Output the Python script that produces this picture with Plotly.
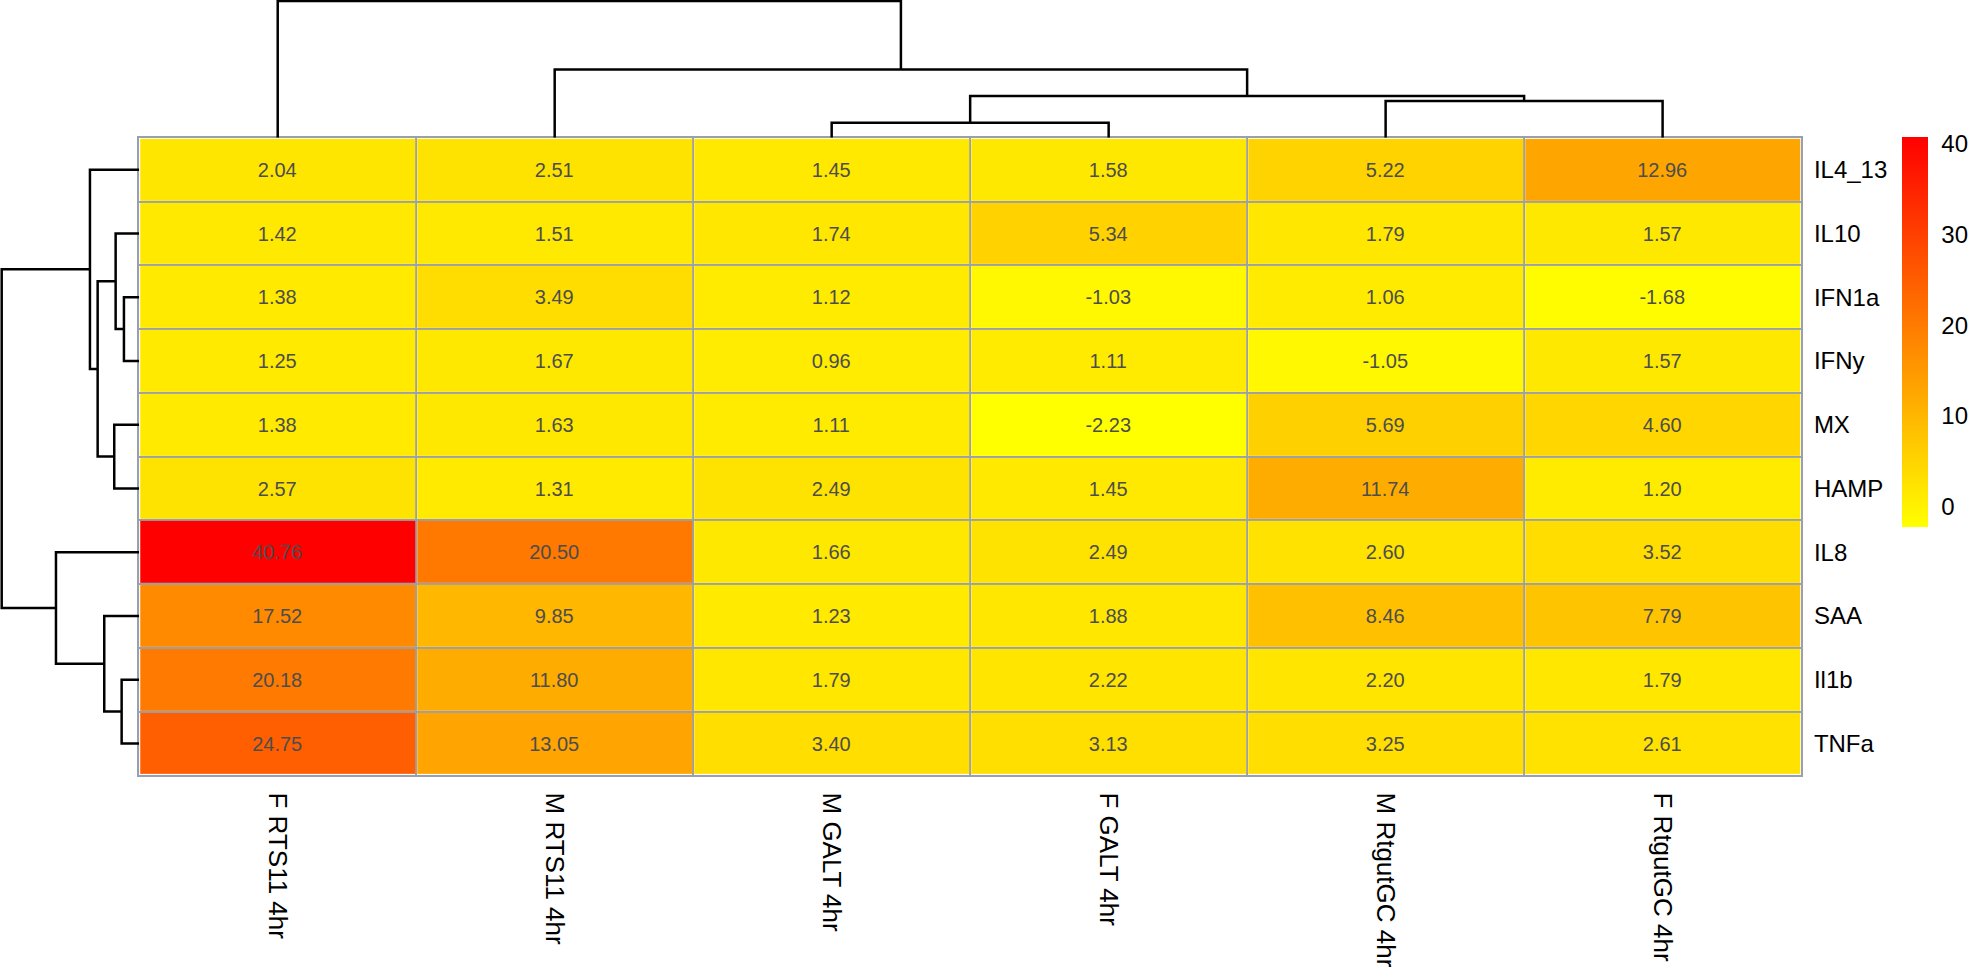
import plotly.graph_objects as go

# ---------------- data ----------------
col_labels = ["F RTS11 4hr", "M RTS11 4hr", "M GALT 4hr", "F GALT 4hr",
              "M RtgutGC 4hr", "F RtgutGC 4hr"]
row_labels = ["IL4_13", "IL10", "IFN1a", "IFNy", "MX", "HAMP",
              "IL8", "SAA", "Il1b", "TNFa"]

il4_13 = [2.04, 2.51, 1.45, 1.58, 5.22, 12.96]
il10   = [1.42, 1.51, 1.74, 5.34, 1.79, 1.57]
ifn1a  = [1.38, 3.49, 1.12, -1.03, 1.06, -1.68]
ifny   = [1.25, 1.67, 0.96, 1.11, -1.05, 1.57]
mx     = [1.38, 1.63, 1.11, -2.23, 5.69, 4.60]
hamp   = [2.57, 1.31, 2.49, 1.45, 11.74, 1.20]
il8    = [40.76, 20.50, 1.66, 2.49, 2.60, 3.52]
saa    = [17.52, 9.85, 1.23, 1.88, 8.46, 7.79]
il1b   = [20.18, 11.80, 1.79, 2.22, 2.20, 1.79]
tnfa   = [24.75, 13.05, 3.40, 3.13, 3.25, 2.61]
values = [il4_13, il10, ifn1a, ifny, mx, hamp, il8, saa, il1b, tnfa]

# dendrogram merges: (left id, right id, merge height) ; ids < n are leaves
col_merges = [(2, 3, 15.3), (4, 5, 37.5), (6, 7, 42.5), (1, 8, 69.5), (0, 9, 139.0)]
row_merges = [(2, 3, 15.3), (8, 9, 17.6), (1, 10, 23.6), (4, 5, 25.0), (7, 11, 35.0),
              (12, 13, 41.6), (0, 15, 49.3), (6, 14, 83.3), (16, 17, 137.6)]

legend_ticks = [0, 10, 20, 30, 40]

# ---------------- helpers ----------------
def dendro_segments(n, merges):
    pos = {i: float(i) for i in range(n)}
    hgt = {i: 0.0 for i in range(n)}
    ps, hs = [], []
    for k, (a, b, h) in enumerate(merges):
        ps += [pos[a], pos[a], pos[b], pos[b], None]
        hs += [hgt[a], h, h, hgt[b], None]
        pos[n + k] = (pos[a] + pos[b]) / 2
        hgt[n + k] = h
    return ps, hs

W, H = 1969, 968
FONT = "Liberation Sans, Arial, sans-serif"
BORDER = "#9aa0ab"

hm_left, hm_right, hm_top, hm_bottom = 139.3, 1802.0, 140.0, 787.5
xL, xR = hm_left / W, hm_right / W
yT, yB = 1 - hm_top / H, 1 - hm_bottom / H

ncol, nrow = len(col_labels), len(row_labels)
zmin = min(min(r) for r in values)
zmax = max(max(r) for r in values)
text = [[f"{v:.2f}" for v in r] for r in values]

fig = go.Figure()

fig.add_trace(go.Heatmap(
    z=values, x=list(range(ncol)), y=list(range(nrow)),
    text=text, texttemplate="%{text}",
    textfont=dict(family=FONT, size=20, color="#4d4d4d"),
    colorscale=[[0, "#ffff00"], [1, "#ff0000"]],
    zmin=zmin, zmax=zmax, xgap=2, ygap=2,
    colorbar=dict(
        x=1903 / W, xanchor="left", xpad=0,
        y=1 - 139 / H, yanchor="top", ypad=0,
        len=396 / H, lenmode="fraction", thickness=26,
        outlinewidth=0, tickvals=legend_ticks,
        ticks="outside", ticklen=9, tickcolor="rgba(0,0,0,0)",
        tickfont=dict(family=FONT, size=24, color="#000000"),
    ),
    hoverinfo="skip",
))

cx, ch = dendro_segments(ncol, col_merges)
fig.add_trace(go.Scatter(x=cx, y=ch, mode="lines", xaxis="x2", yaxis="y2",
                         line=dict(color="#000000", width=2.5), cliponaxis=False,
                         hoverinfo="skip", showlegend=False))

ry, rh = dendro_segments(nrow, row_merges)
fig.add_trace(go.Scatter(x=rh, y=ry, mode="lines", xaxis="x3", yaxis="y3",
                         line=dict(color="#000000", width=2.5), cliponaxis=False,
                         hoverinfo="skip", showlegend=False))

fig.update_layout(
    width=W, height=H, margin=dict(l=0, r=0, t=0, b=0),
    paper_bgcolor="white", plot_bgcolor="white", showlegend=False,
    font=dict(family=FONT, size=24, color="#000000"),
    xaxis=dict(domain=[xL, xR], range=[-0.5, ncol - 0.5],
               tickvals=list(range(ncol)), ticktext=col_labels, tickangle=90,
               ticks="", showgrid=False, zeroline=False,
               ticklabelstandoff=10,
               minor=dict(tickvals=[i - 0.5 for i in range(ncol + 1)],
                          showgrid=True, gridcolor=BORDER, gridwidth=2, ticks=""),
               showline=True, mirror=True, linecolor=BORDER, linewidth=2,
               tickfont=dict(family=FONT, size=26, color="#000000")),
    yaxis=dict(domain=[yB, yT], range=[nrow - 0.5, -0.5],
               tickvals=list(range(nrow)), ticktext=row_labels, side="right",
               ticks="", showgrid=False, zeroline=False,
               ticklabelstandoff=6,
               minor=dict(tickvals=[i - 0.5 for i in range(nrow + 1)],
                          showgrid=True, gridcolor=BORDER, gridwidth=2, ticks=""),
               showline=True, mirror=True, linecolor=BORDER, linewidth=2,
               tickfont=dict(family=FONT, size=24, color="#000000")),
    xaxis2=dict(domain=[xL, xR], range=[-0.5, ncol - 0.5], anchor="y2",
                visible=False),
    yaxis2=dict(domain=[yT, 1.0], range=[0, hm_top], anchor="x2", visible=False),
    xaxis3=dict(domain=[0, xL], range=[hm_left, 0], anchor="y3", visible=False),
    yaxis3=dict(domain=[yB, yT], range=[nrow - 0.5, -0.5], anchor="x3",
                visible=False),
)

fig.write_html(
    "out.html",
    config={"displayModeBar": False},
    post_script="document.body.style.margin='0';document.body.style.overflow='hidden';",
)
